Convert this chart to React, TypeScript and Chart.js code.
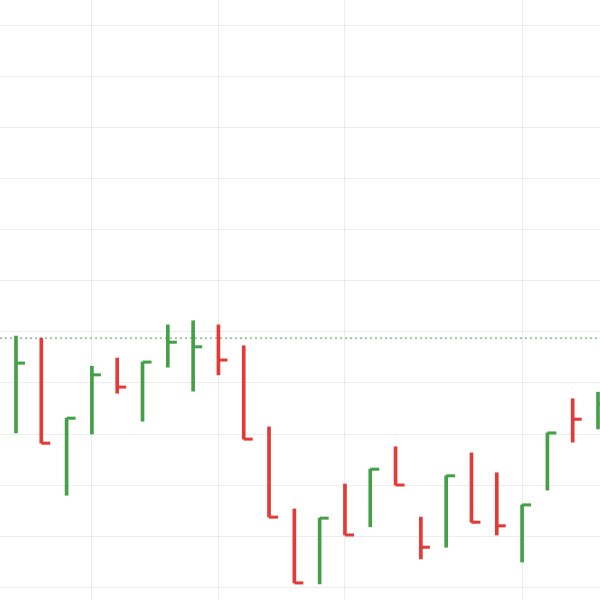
import React, { useEffect, useRef } from "react";
import { Chart, registerables } from "chart.js";

Chart.register(...registerables);

// Daily HLC bars (index = trading session)
const highs = [14.92, 14.88, 13.31, 14.33, 14.49, 14.41, 15.14, 15.22, 15.14, 14.73, 13.14, 11.53, 11.35, 12.02, 12.31, 12.75, 11.37, 12.18, 12.63, 12.24, 11.61, 13.02, 13.69, 13.82];
const lows = [13.02, 12.82, 11.80, 13.00, 13.80, 13.25, 14.31, 13.84, 14.16, 12.90, 11.37, 10.08, 10.06, 11.02, 11.18, 12.00, 10.55, 10.78, 11.27, 11.02, 10.49, 11.90, 12.84, 13.10];
const closes = [14.39, 12.82, 13.31, 14.16, 13.92, 14.41, 14.80, 14.71, 14.45, 12.90, 11.37, 10.08, 11.35, 11.02, 12.31, 12.00, 10.78, 12.18, 11.27, 11.20, 11.61, 13.02, 13.29, 13.60];
const directions = ["up", "down", "up", "up", "down", "up", "up", "up", "down", "down", "down", "down", "up", "down", "up", "down", "down", "up", "down", "down", "up", "up", "down", "up"];
const referenceLevel = 14.88;
const yGridValues = [10, 11, 12, 13, 14, 15, 16, 17, 18, 19, 20, 21];
const xGridValues = [3, 8, 13, 20];

const UP = "#43a047";
const DOWN = "#e53935";

export default function App() {
  const ref = useRef<HTMLCanvasElement | null>(null);

  useEffect(() => {
    if (!ref.current) return;
    const xMin = -0.632;
    const xMax = 23.079;
    const colors = directions.map((d) => (d === "up" ? UP : DOWN));

    const closeTicks = {
      id: "closeTicks",
      afterDatasetsDraw(chart: any) {
        const xs = chart.scales.x;
        const ys = chart.scales.y;
        const ctx = chart.ctx;
        ctx.save();
        closes.forEach((c, i) => {
          const px = xs.getPixelForValue(i);
          const py = ys.getPixelForValue(c);
          ctx.fillStyle = colors[i];
          ctx.fillRect(px, py - 1.5, 9, 3);
        });
        ctx.restore();
      },
    };

    const chart = new Chart(ref.current, {
      type: "scatter",
      data: {
        datasets: [
          {
            type: "line",
            data: [
              { x: xMin, y: referenceLevel },
              { x: xMax, y: referenceLevel },
            ],
            borderColor: UP,
            borderWidth: 1,
            borderDash: [2, 3],
            pointRadius: 0,
            showLine: true,
            fill: false,
            order: 2,
          } as any,
          {
            type: "bar",
            data: highs.map((h, i) => ({ x: i, y: [lows[i], h] })),
            backgroundColor: colors,
            borderWidth: 0,
            barThickness: 3,
            order: 1,
          } as any,
        ],
      },
      options: {
        animation: false,
        responsive: true,
        maintainAspectRatio: false,
        layout: { padding: 0 },
        plugins: { legend: { display: false }, tooltip: { enabled: false } },
        scales: {
          x: {
            type: "linear",
            min: xMin,
            max: xMax,
            offset: false,
            afterBuildTicks: (axis: any) => {
              axis.ticks = xGridValues.map((v) => ({ value: v }));
            },
            ticks: { display: false },
            grid: { color: "rgba(0,0,0,0.07)", drawTicks: false, offset: false },
            border: { display: false },
          },
          y: {
            type: "linear",
            min: 9.7451,
            max: 21.5098,
            afterBuildTicks: (axis: any) => {
              axis.ticks = yGridValues.map((v) => ({ value: v }));
            },
            ticks: { display: false },
            grid: { color: "rgba(0,0,0,0.07)", drawTicks: false },
            border: { display: false },
          },
        },
      } as any,
      plugins: [closeTicks],
    });
    return () => chart.destroy();
  }, []);

  return (
    <div style={{ position: "absolute", left: 0, top: 0, width: 600, height: 600, background: "#fff" }}>
      <canvas ref={ref} />
    </div>
  );
}
